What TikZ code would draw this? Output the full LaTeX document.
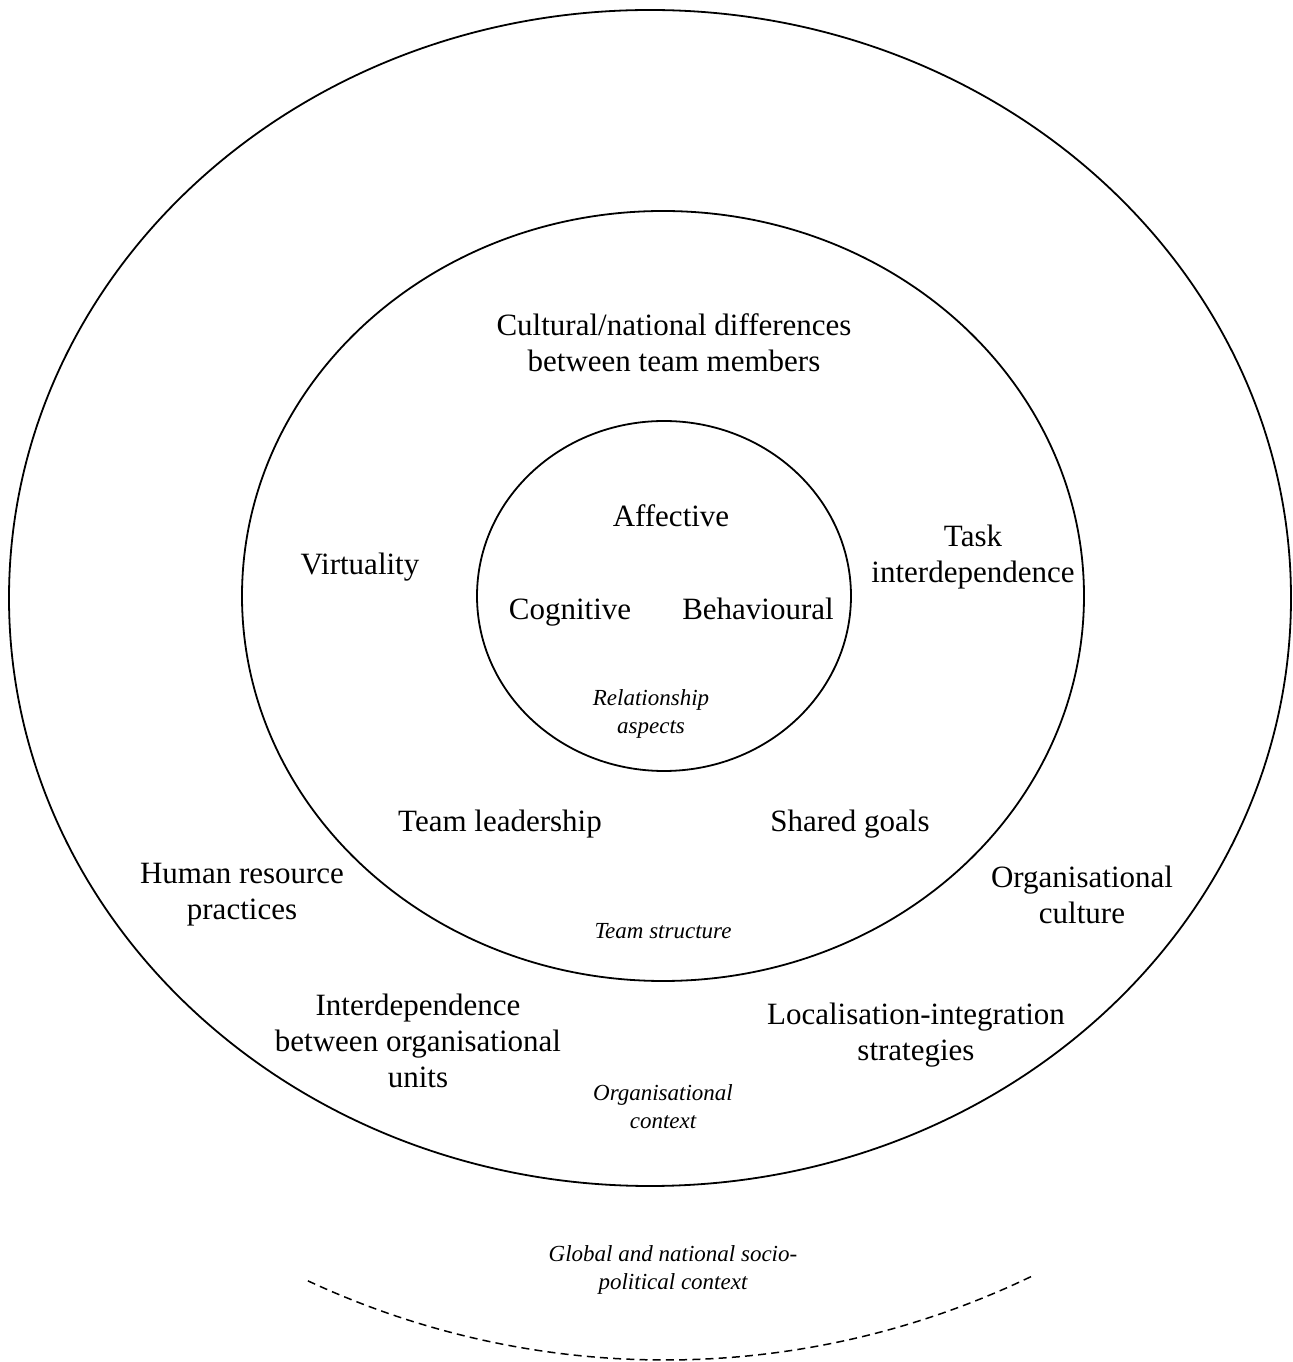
\documentclass[tikz,border=0pt]{standalone}
\usepackage{fontspec}
\setmainfont{Liberation Serif}
\begin{document}
\begin{tikzpicture}[x=0.5pt,y=0.5pt,
  ring/.style={draw=black,line width=0.9pt},
  lbl/.style={inner sep=0pt,align=center,font=\fontsize{15.5}{18}\selectfont},
  ctx/.style={inner sep=0pt,align=center,font=\fontsize{11.5}{14}\selectfont\itshape}]
\useasboundingbox (0,0) rectangle (1293,1362);
% rings
\draw[ring] (650,764) ellipse [x radius=320.5pt, y radius=294pt];
\draw[ring] (663,766) ellipse [x radius=210.5pt, y radius=192.5pt];
\draw[ring] (664,766) ellipse [x radius=93.5pt, y radius=87.5pt];
% dashed outer arc
\draw[dashed,line width=0.75pt,dash pattern=on 4pt off 2.6pt] (665,847) ++(245:422.5pt) arc[start angle=245,end angle=296,radius=422.5pt];
% inner circle
\node[lbl] (aff) at (671,846) {Affective};
\node[lbl,anchor=base] (cog) at (570,742) {Cognitive};
\node[lbl,anchor=base] (beh) at (758,742) {Behavioural};
\node[ctx] (rel) at (651,648) {Relationship\\aspects};
% middle ring
\node[lbl] (cult) at (674,1019) {Cultural/national differences\\between team members};
\node[lbl] (virt) at (360,795) {Virtuality};
\node[lbl] (task) at (973,805) {Task\\interdependence};
\node[lbl] (lead) at (500,538) {Team leadership};
\node[lbl] (goal) at (850,538) {Shared goals};
\node[ctx] (tstr) at (663,431) {Team structure};
% outer ring
\node[lbl] (hrp) at (242,467) {Human resource\\practices};
\node[lbl] (oc) at (1082,467) {Organisational\\culture};
\node[lbl] (iou) at (418,321) {Interdependence\\between organisational\\units};
\node[lbl] (lis) at (916,327) {Localisation-integration\\strategies};
\node[ctx] (octx) at (663,255) {Organisational\\context};
% outside
\node[ctx] (glob) at (673,92) {Global and national socio-\\political context};
\end{tikzpicture}
\end{document}
